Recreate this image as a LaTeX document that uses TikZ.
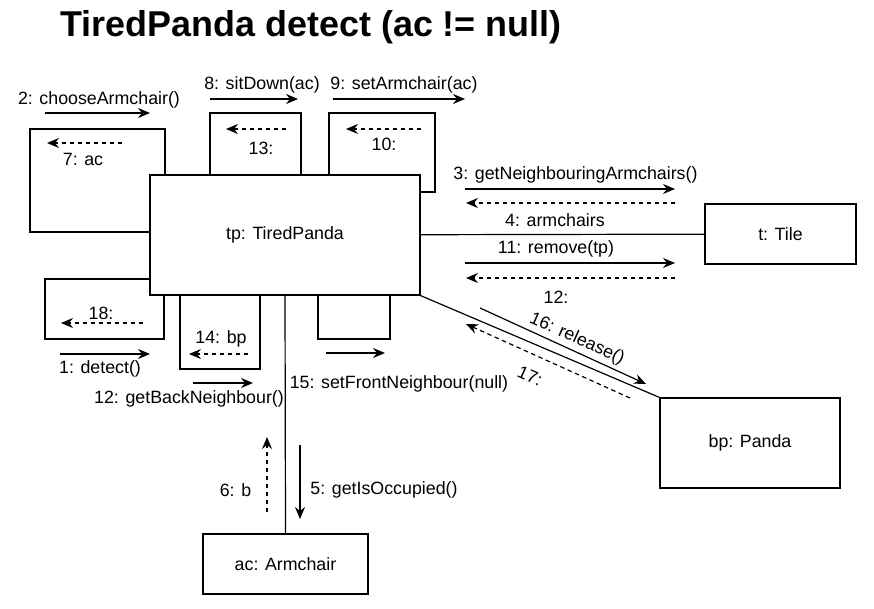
\documentclass[tikz,border=0pt]{standalone}
\usepackage{fontspec}
\setmainfont{Liberation Sans}
\usetikzlibrary{arrows.meta}
\begin{document}
\begin{tikzpicture}[x=1pt,y=-1pt,line width=1.2pt,
  obj/.style={draw,line width=1.2pt,inner sep=0pt,font=\fontsize{17.8}{20}\selectfont},
  lbl/.style={font=\fontsize{17.8}{20}\selectfont,inner sep=0pt},
  msg/.style={-{Stealth[length=12pt,width=10pt,inset=4pt]}},
  ret/.style={msg,dash pattern=on 4.5pt off 3.5pt}]
\useasboundingbox (0,0) rectangle (874,609);
\node[font=\bfseries\fontsize{35.9}{40}\selectfont,inner sep=0pt,anchor=base west] (title) at (60,37) {TiredPanda detect (ac != null)};
% objects
\node[obj,minimum width=270pt,minimum height=120pt] (tp) at (285,235) {tp: TiredPanda};
\node[obj,minimum width=151pt,minimum height=60pt] (tile) at (780.5,234) {t: Tile};
\node[obj,minimum width=180pt,minimum height=90pt] (panda) at (750,443) {bp: Panda};
\node[obj,minimum width=165pt,minimum height=60pt] (ac) at (285.5,564) {ac: Armchair};
% links
\draw (tp) -- (tile);
\draw (tp.south east) -- (panda.north west);
\draw (tp.south) -- (ac.north);
% self loops
\draw (165,175) -- (165,129) -- (30,129) -- (30,232) -- (150,232);
\draw (210,175) -- (210,113) -- (301,113) -- (301,175);
\draw (329,175) -- (329,113) -- (435,113) -- (435,192) -- (420,192);
\draw (164,295) -- (164,339) -- (45,339) -- (45,279) -- (150,279);
\draw (180,295) -- (180,369) -- (260,369) -- (260,295);
\draw (318,295) -- (318,339) -- (390,339) -- (390,295);
% message arrows
\coordinate (a2s) at (45,113);  \coordinate (a2e) at (150,113);
\draw[msg] (a2s) -- (a2e);
\coordinate (a7s) at (122,143); \coordinate (a7e) at (47,143);
\draw[ret] (a7s) -- (a7e);
\coordinate (a8s) at (210,99);  \coordinate (a8e) at (298,99);
\draw[msg] (a8s) -- (a8e);
\coordinate (a13s) at (286,129); \coordinate (a13e) at (226,129);
\draw[ret] (a13s) -- (a13e);
\coordinate (a9s) at (333,99);  \coordinate (a9e) at (465,99);
\draw[msg] (a9s) -- (a9e);
\coordinate (a10s) at (421,129); \coordinate (a10e) at (346,129);
\draw[ret] (a10s) -- (a10e);
\coordinate (a3s) at (465,189); \coordinate (a3e) at (675,189);
\draw[msg] (a3s) -- (a3e);
\coordinate (a4s) at (675,203); \coordinate (a4e) at (466,203);
\draw[ret] (a4s) -- (a4e);
\coordinate (a11s) at (465,263); \coordinate (a11e) at (675,263);
\draw[msg] (a11s) -- (a11e);
\coordinate (a12s) at (675,278); \coordinate (a12e) at (466,278);
\draw[ret] (a12s) -- (a12e);
\coordinate (a18s) at (143,323); \coordinate (a18e) at (61,323);
\draw[ret] (a18s) -- (a18e);
\coordinate (a1s) at (60,354); \coordinate (a1e) at (150,354);
\draw[msg] (a1s) -- (a1e);
\coordinate (a14s) at (248,354); \coordinate (a14e) at (189,354);
\draw[ret] (a14s) -- (a14e);
\coordinate (a12bs) at (193,383); \coordinate (a12be) at (253,383);
\draw[msg] (a12bs) -- (a12be);
\coordinate (a15s) at (326,353); \coordinate (a15e) at (385,353);
\draw[msg] (a15s) -- (a15e);
\coordinate (a16s) at (480,308); \coordinate (a16e) at (646,384);
\draw[msg] (a16s) -- (a16e);
\coordinate (a17s) at (630,398); \coordinate (a17e) at (466,324);
\draw[ret] (a17s) -- (a17e);
\coordinate (a5s) at (300,445); \coordinate (a5e) at (300,519);
\draw[msg] (a5s) -- (a5e);
\coordinate (a6s) at (267,512); \coordinate (a6e) at (267,437);
\draw[ret] (a6s) -- (a6e);
% labels
\node[lbl] (l2) at (99,100) {2: chooseArmchair()};
\node[lbl] (l7) at (83,159) {7: ac};
\node[lbl] (l8) at (262,85) {8: sitDown(ac)};
\node[lbl] (l13) at (261,148) {13:};
\node[lbl] (l9) at (404,85) {9: setArmchair(ac)};
\node[lbl] (l10) at (384,144) {10:};
\node[lbl] (l3) at (575.5,175) {3: getNeighbouringArmchairs()};
\node[lbl] (l4) at (555,220) {4: armchairs};
\node[lbl] (l11) at (556,249) {11: remove(tp)};
\node[lbl] (l12) at (556,297) {12:};
\node[lbl,rotate=-24] (l16) at (577,339) {16: release()};
\node[lbl,rotate=-24] (l17) at (530,376) {17:};
\node[lbl] (l18) at (101,313) {18:};
\node[lbl] (l1) at (100,369) {1: detect()};
\node[lbl] (l14) at (221,339) {14: bp};
\node[lbl] (l12b) at (189,399) {12: getBackNeighbour()};
\node[lbl] (l15) at (399,384) {15: setFrontNeighbour(null)};
\node[lbl] (l5) at (384,490) {5: getIsOccupied()};
\node[lbl] (l6) at (235.5,490) {6: b};
\end{tikzpicture}
\end{document}
